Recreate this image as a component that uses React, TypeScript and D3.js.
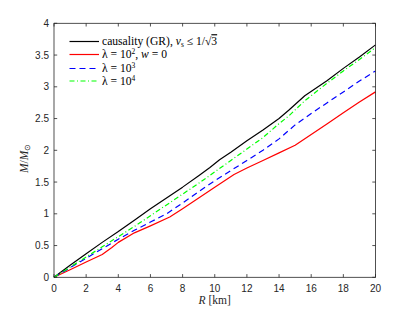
import React from 'react';
import * as d3 from 'd3';

// radius [km] samples and mass [M_sun] per curve
const causalR = [0, 1, 2, 3, 4, 5, 6, 7, 8, 9, 9.7, 10.3, 11, 12, 13, 14, 14.6, 15.6, 17, 18, 19, 20];
const causalM = [0, 0.19, 0.37, 0.55, 0.72, 0.9, 1.08, 1.25, 1.42, 1.6, 1.73, 1.85, 1.97, 2.15, 2.32, 2.5, 2.63, 2.86, 3.1, 3.29, 3.47, 3.66];

const lam2R = [0, 1, 2, 3, 3.6, 4, 5, 6, 7.2, 8, 9, 10, 11.2, 12, 13, 14, 15, 16, 17, 18, 19, 20];
const lam2M = [0, 0.12, 0.24, 0.36, 0.47, 0.55, 0.7, 0.81, 0.95, 1.08, 1.25, 1.42, 1.62, 1.72, 1.84, 1.96, 2.08, 2.25, 2.42, 2.59, 2.76, 2.92];

const lam3R = [0, 1, 2, 3, 4, 5, 6, 7, 8, 9, 10, 11, 12, 13, 14, 15, 16, 17, 18, 19, 20];
const lam3M = [0, 0.15, 0.3, 0.45, 0.6, 0.74, 0.87, 1.0, 1.17, 1.35, 1.52, 1.68, 1.84, 2.0, 2.18, 2.4, 2.58, 2.75, 2.92, 3.09, 3.25];

const lam4R = [0, 2, 3, 4, 5, 6, 7, 8, 9, 10, 11, 12, 13, 14, 14.6, 15.6, 17, 18, 19, 20];
const lam4M = [0, 0.32, 0.48, 0.64, 0.8, 0.97, 1.14, 1.31, 1.48, 1.66, 1.84, 2.02, 2.2, 2.42, 2.54, 2.78, 3.06, 3.25, 3.43, 3.62];

const xTicks = [0, 2, 4, 6, 8, 10, 12, 14, 16, 18, 20];
const yTicks = [0, 0.5, 1, 1.5, 2, 2.5, 3, 3.5, 4];

const width = 415;
const height = 312;
const marginLeft = 54;
const marginRight = 39.5;
const marginTop = 23.3;
const marginBottom = 34.7;

const axisColor = '#262626';
const tickFont = '"Liberation Sans", Arial, sans-serif';
const texFont = '"Liberation Serif", "Times New Roman", serif';

export default function App() {
    const x = d3.scaleLinear().domain([0, 20]).range([marginLeft, width - marginRight]);
    const y = d3.scaleLinear().domain([0, 4]).range([height - marginBottom, marginTop]);

    const line = d3.line<[number, number]>()
        .x(d => x(d[0]))
        .y(d => y(d[1]));

    const zip = (rs: number[], ms: number[]) => rs.map((r, i) => [r, ms[i]] as [number, number]);

    const series = [
        { r: causalR, m: causalM, color: '#000000', dash: undefined },
        { r: lam2R, m: lam2M, color: '#ff0000', dash: undefined },
        { r: lam3R, m: lam3M, color: '#0000ff', dash: '6,4' },
        { r: lam4R, m: lam4M, color: '#00ff00', dash: '5,2.5,1,2.5' },
    ];

    const x0 = x(0), x1 = x(20), y0 = y(0), y1 = y(4);
    const tickLen = 3.2;

    const legendRows = [41.5, 54.5, 68.5, 81];
    const legendX0 = 69.5;
    const legendX1 = 99;
    const legendTextX = 102;
    const legendSize = 11.6;

    return (
        <div style={{ position: 'fixed', left: 0, top: 0 }}>
            <svg width={width} height={height} viewBox={`0 0 ${width} ${height}`} style={{ display: 'block', background: '#fff' }}>
                <rect x={0} y={0} width={width} height={height} fill="#fff" />
                {series.map((s, i) => (
                    <path key={i} d={line(zip(s.r, s.m)) || ''} fill="none" stroke={s.color}
                        strokeWidth={1.2} strokeDasharray={s.dash} strokeLinejoin="round" />
                ))}

                {/* axes box */}
                <rect x={x0} y={y1} width={x1 - x0} height={y0 - y1} fill="none" stroke={axisColor} strokeWidth={0.8} />
                {xTicks.map(t => (
                    <g key={'x' + t}>
                        <line x1={x(t)} x2={x(t)} y1={y0} y2={y0 - tickLen} stroke={axisColor} strokeWidth={0.8} />
                        <line x1={x(t)} x2={x(t)} y1={y1} y2={y1 + tickLen} stroke={axisColor} strokeWidth={0.8} />
                        <text x={x(t)} y={y0 + 14.5} textAnchor="middle" fontFamily={tickFont} fontSize={10} fill={axisColor}>{t}</text>
                    </g>
                ))}
                {yTicks.map(t => (
                    <g key={'y' + t}>
                        <line x1={x0} x2={x0 + tickLen} y1={y(t)} y2={y(t)} stroke={axisColor} strokeWidth={0.8} />
                        <line x1={x1} x2={x1 - tickLen} y1={y(t)} y2={y(t)} stroke={axisColor} strokeWidth={0.8} />
                        <text x={x0 - 5} y={y(t) + 3.5} textAnchor="end" fontFamily={tickFont} fontSize={10} fill={axisColor}>{t}</text>
                    </g>
                ))}

                {/* axis labels */}
                <text x={(x0 + x1) / 2} y={y0 + 27} textAnchor="middle" fontFamily={texFont} fontSize={11.5} fill={axisColor}>
                    <tspan fontStyle="italic">R</tspan> [km]
                </text>
                <text transform={`translate(28, ${(y0 + y1) / 2 + 8}) rotate(-90)`} textAnchor="middle" fontFamily={texFont} fontSize={11.5} fill={axisColor}>
                    <tspan fontStyle="italic">M</tspan>/<tspan fontStyle="italic">M</tspan><tspan fontSize={7.5} dy={2}>⊙</tspan>
                </text>

                {/* legend */}
                {series.map((s, i) => (
                    <line key={'l' + i} x1={legendX0} x2={legendX1} y1={legendRows[i]} y2={legendRows[i]}
                        stroke={s.color} strokeWidth={1.2} strokeDasharray={s.dash} />
                ))}
                <text x={legendTextX} y={legendRows[0] + 3.7} fontFamily={texFont} fontSize={legendSize} fill="#000">
                    causality (GR), <tspan fontStyle="italic">v</tspan><tspan fontSize={7.5} dy={1.5}>s</tspan><tspan dy={-1.5}> ≤ 1/√</tspan><tspan textDecoration="overline">3</tspan>
                </text>
                <text x={legendTextX} y={legendRows[1] + 3.7} fontFamily={texFont} fontSize={legendSize} fill="#000">
                    λ = 10<tspan fontSize={7.5} dy={-4}>2</tspan><tspan dy={4}>, </tspan><tspan fontStyle="italic">w</tspan> = 0
                </text>
                <text x={legendTextX} y={legendRows[2] + 3.7} fontFamily={texFont} fontSize={legendSize} fill="#000">
                    λ = 10<tspan fontSize={7.5} dy={-4}>3</tspan>
                </text>
                <text x={legendTextX} y={legendRows[3] + 3.7} fontFamily={texFont} fontSize={legendSize} fill="#000">
                    λ = 10<tspan fontSize={7.5} dy={-4}>4</tspan>
                </text>
            </svg>
        </div>
    );
}
